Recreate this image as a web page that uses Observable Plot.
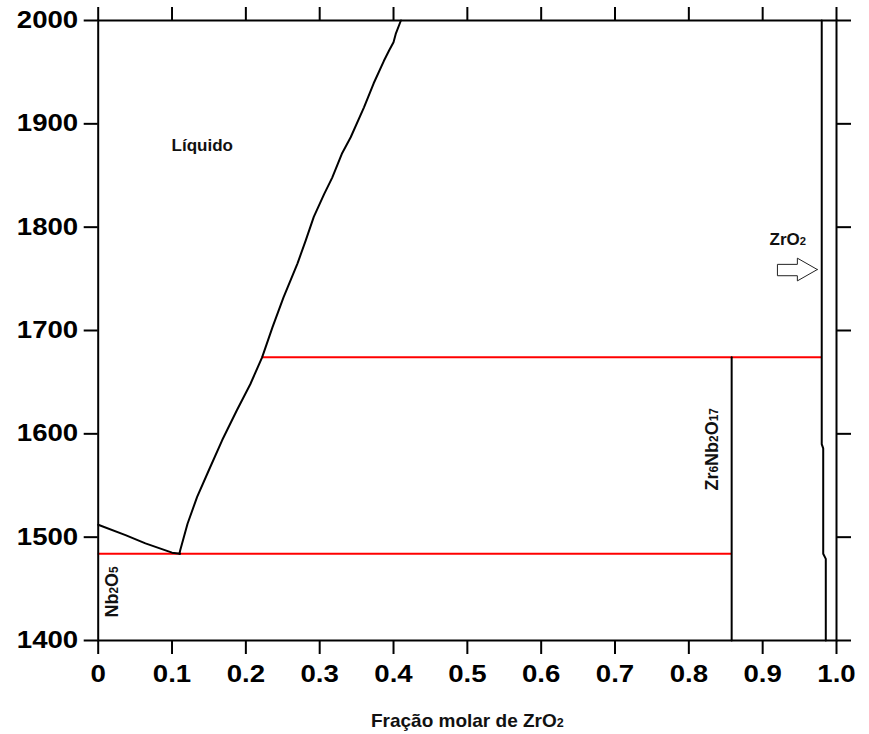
<!DOCTYPE html>
<html lang="pt">
<head>
<meta charset="utf-8">
<script src="https://cdn.jsdelivr.net/npm/d3@7"></script>
<script src="https://cdn.jsdelivr.net/npm/@observablehq/plot@0.6"></script>
<style>
  html, body { margin: 0; padding: 0; background: #fff; }
  #chart svg text { font-family: "Liberation Sans", Arial, sans-serif; font-weight: bold; }
</style>
</head>
<body>
<div id="chart"></div>
<script>
// Nb2O5–ZrO2 phase diagram: temperature (°C) against molar fraction of ZrO2

// Axis ticks
const xTicks = [0, 0.1, 0.2, 0.3, 0.4, 0.5, 0.6, 0.7, 0.8, 0.9, 1.0];
const xTickLabels = ["0", "0.1", "0.2", "0.3", "0.4", "0.5", "0.6", "0.7", "0.8", "0.9", "1.0"];
const yTicks = [1400, 1500, 1600, 1700, 1800, 1900, 2000];
const yTickLabels = ["1400", "1500", "1600", "1700", "1800", "1900", "2000"];

// Liquidus, Nb2O5-rich side (down to the eutectic)
const liqLeftX = [0, 0.037, 0.064, 0.100, 0.111];
const liqLeftT = [1512, 1502, 1494, 1485, 1484];

// Liquidus, ZrO2-rich side
const liqRightX = [0.110, 0.111, 0.121, 0.134, 0.150, 0.168, 0.188, 0.206, 0.222, 0.236, 0.251, 0.270, 0.281,
                   0.292, 0.306, 0.317, 0.330, 0.342, 0.360, 0.373, 0.387, 0.394, 0.400, 0.403, 0.410];
const liqRightT = [1484, 1487, 1513, 1539, 1565, 1594, 1623, 1648, 1674, 1703, 1732, 1765, 1787,
                   1810, 1832, 1848, 1871, 1887, 1916, 1939, 1961, 1971, 1979, 1987, 2000];

// Boundary of the ZrO2 solid solution
const ssX = [0.980, 0.980, 0.982, 0.982, 0.9855, 0.9855];
const ssT = [2000, 1590, 1586, 1484, 1479, 1400];

// Zr6Nb2O17 line compound
const compoundX = [0.858, 0.858];
const compoundT = [1400, 1674];

// Invariant isotherms (eutectic and peritectic)
const isoX1 = [0, 0.222];
const isoX2 = [0.858, 0.980];
const isoT = [1484, 1674];

// Region / phase labels
const labelText = ["Líquido", "ZrO2", "Nb2O5", "Zr6Nb2O17"];
const labelX = [0.141, 0.934, 0.019, 0.832];
const labelT = [1879, 1788, 1447, 1585];
const labelRotate = [0, 0, -90, -90];
const labelSize = [17, 17, 18, 18];

// Outline arrow pointing at the ZrO2 boundary
const arrowX = [0.974, 0.947, 0.947, 0.920, 0.920, 0.947, 0.947, 0.974];
const arrowT = [1759, 1770, 1764, 1764, 1753, 1753, 1748, 1759];

const xTitle = "Fração molar de ZrO2";

const pts = (xs, ts) => xs.map((x, i) => ({x, T: ts[i]}));
const xFmt = new Map(xTicks.map((v, i) => [v, xTickLabels[i]]));
const yFmt = new Map(yTicks.map((v, i) => [v, yTickLabels[i]]));
const isotherms = isoT.map((T, i) => ({x1: isoX1[i], x2: isoX2[i], T}));
const labels = labelText.map((s, i) => ({s, x: labelX[i], T: labelT[i], r: labelRotate[i], size: labelSize[i]}));

const chart = Plot.plot({
  width: 869,
  height: 734,
  marginTop: 20,
  marginBottom: 94,
  marginLeft: 97.7,
  marginRight: 33,
  x: {domain: [0, 1], label: null},
  y: {domain: [1400, 2000], label: null},
  marks: [
    Plot.ruleY(isotherms, {y: "T", x1: "x1", x2: "x2", stroke: "#ff0000", strokeWidth: 2}),
    Plot.line(pts(liqLeftX, liqLeftT), {x: "x", y: "T", stroke: "#000", strokeWidth: 2, strokeLinejoin: "round"}),
    Plot.line(pts(liqRightX, liqRightT), {x: "x", y: "T", stroke: "#000", strokeWidth: 2, strokeLinejoin: "round"}),
    Plot.line(pts(ssX, ssT), {x: "x", y: "T", stroke: "#000", strokeWidth: 2}),
    Plot.line(pts(compoundX, compoundT), {x: "x", y: "T", stroke: "#000", strokeWidth: 2}),
    Plot.line(pts(arrowX, arrowT), {x: "x", y: "T", stroke: "#222", strokeWidth: 1, fill: "white"}),
    Plot.text(labels, {x: "x", y: "T", text: "s", rotate: "r", fontSize: "size", fill: "#111"}),
    Plot.text([xTitle], {text: d => d, frameAnchor: "bottom", lineAnchor: "middle", dy: 80.5, fontSize: 19, fill: "#111"}),
    Plot.axisX(xTicks, {anchor: "bottom", tickSize: 14, tickPadding: 11, strokeWidth: 2, fontSize: 23,
                        fill: "#000", tickFormat: d => xFmt.get(d), label: null}),
    Plot.axisX(xTicks, {anchor: "top", tickSize: 14, strokeWidth: 2, tickFormat: () => "", label: null}),
    Plot.axisY(yTicks, {anchor: "left", tickSize: 14, tickPadding: 6, strokeWidth: 2, fontSize: 23,
                        fill: "#000", tickFormat: d => yFmt.get(d), label: null}),
    Plot.axisY(yTicks, {anchor: "right", tickSize: 14, strokeWidth: 2, tickFormat: () => "", label: null}),
    Plot.frame({stroke: "#000", strokeWidth: 2})
  ]
});

document.getElementById("chart").append(chart);

// Tick labels: drop the empty ones on the top/right axes, widen the rest
chart.querySelectorAll('g[aria-label$="tick label"] text').forEach(t => {
  if (!t.textContent) { t.remove(); return; }
  const w = t.getComputedTextLength();
  t.setAttribute("textLength", (w * 1.2).toFixed(1));
  t.setAttribute("lengthAdjust", "spacingAndGlyphs");
});

// Chemical formulas: digits after an element symbol become subscripts
chart.querySelectorAll("text").forEach(t => {
  if (t.querySelector("tspan")) return;
  const s = t.textContent;
  if (!/[A-Za-z]\d/.test(s)) return;
  const tokens = s.match(/\d+|\D+/g);
  t.textContent = "";
  tokens.forEach((tok, i) => {
    const span = document.createElementNS("http://www.w3.org/2000/svg", "tspan");
    span.textContent = tok;
    if (/^\d+$/.test(tok) && i > 0 && /[A-Za-z]$/.test(tokens[i - 1])) {
      span.setAttribute("style", "font-size:66%");
    }
    t.appendChild(span);
  });
});
</script>
</body>
</html>
